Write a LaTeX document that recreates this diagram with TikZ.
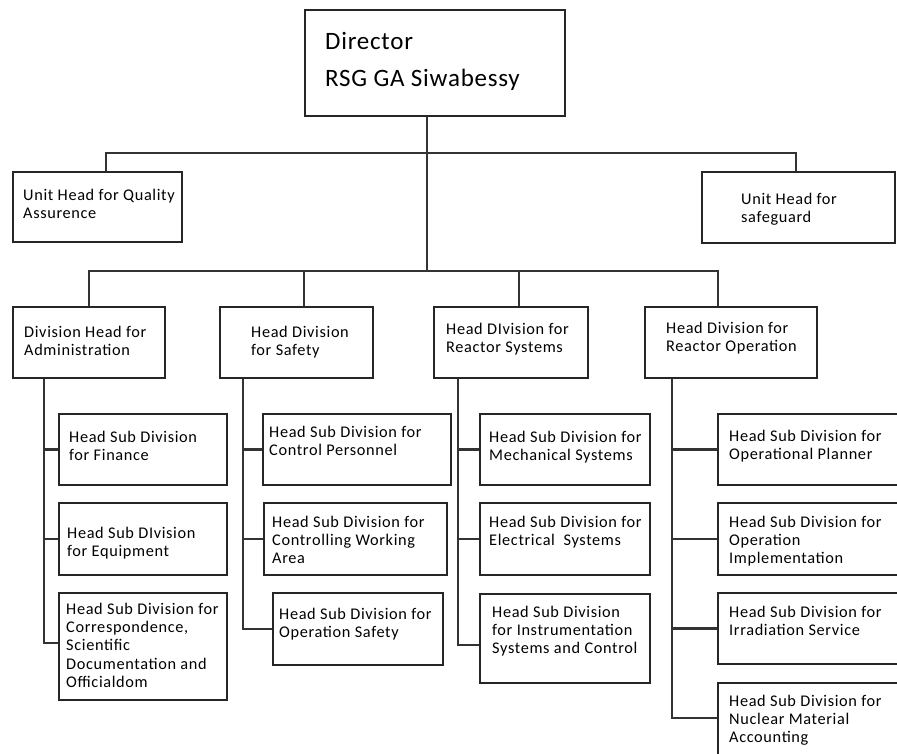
\documentclass[tikz,border=0pt]{standalone}
\usepackage{fontspec}
\setmainfont{Carlito}
\newfontfamily\boxfont[LetterSpace=4]{Carlito}
\newfontfamily\dirfont[LetterSpace=3]{Carlito}
\usetikzlibrary{fit}
\tikzset{
  box/.style={draw=black!85, line width=2.6pt, inner sep=0pt, fill=white},
  conn/.style={draw=black!80, line width=2.5pt},
  txt/.style={anchor=base west, inner sep=0pt, font=\boxfont\fontsize{16.3}{18.4}\selectfont},
  dtxt/.style={anchor=base west, inner sep=0pt, font=\dirfont\fontsize{25}{37}\selectfont},
}
\newcommand\orgbox[8]{%
  \node[box, fit={(#2,#3)(#4,#5)}] (#1) {};
  \node[txt] (#1t) at (#6,#7) {\parbox[t]{8cm}{\raggedright #8}};
}
\begin{document}
\begin{tikzpicture}[x=1pt,y=-1pt]
\useasboundingbox (0,0) rectangle (897,753);
\fill[white] (0,0) rectangle (897,753);
% director
\node[box, fit={(305,10)(565,116)}] (dir) {};
\node[dtxt] (dirt) at (325,49) {\parbox[t]{8cm}{\raggedright Director\\RSG GA Siwabessy}};
% units
\orgbox{qa}{13}{172}{182}{242}{23}{200}{Unit Head for Quality\\Assurence}
\orgbox{sg}{702}{172}{895}{243}{741}{204}{Unit Head for\\safeguard}
% divisions
\orgbox{adm}{13}{307}{165}{378}{24}{337}{Division Head for\\Administration}
\orgbox{saf}{220}{307}{373}{378}{251}{337}{Head Division\\for Safety}
\orgbox{rsy}{434}{307}{588}{378}{446}{334}{Head DIvision for\\Reactor Systems}
\orgbox{rop}{645}{307}{817}{378}{666}{333}{Head Division for\\Reactor Operation}
% sub divisions
\orgbox{fin}{59}{414}{227}{485}{69}{442}{Head Sub Division\\for Finance}
\orgbox{equ}{59}{503}{227}{575}{67}{538}{Head Sub DIvision\\for Equipment}
\orgbox{cor}{59}{593}{227}{700}{66}{614}{Head Sub Division for\\Correspondence,\\Scientific\\Documentation and\\Officialdom}
\orgbox{cpe}{263}{414}{451}{485}{269}{437}{Head Sub Division for\\Control Personnel}
\orgbox{cwa}{264}{503}{447}{575}{272}{527}{Head Sub Division for\\Controlling Working\\Area}
\orgbox{osa}{273}{593}{443}{665}{279}{619}{Head Sub Division for\\Operation Safety}
\orgbox{mec}{480}{414}{650}{485}{489}{442}{Head Sub Division for\\Mechanical Systems}
\orgbox{ele}{480}{503}{650}{575}{489}{527}{Head Sub Division for\\Electrical\ \ Systems}
\orgbox{ins}{480}{594}{650}{683}{492}{617}{Head Sub Division\\for Instrumentation\\Systems and Control}
\orgbox{opl}{718}{414}{900}{485}{729}{441}{Head Sub Division for\\Operational Planner}
\orgbox{oim}{718}{503}{900}{575}{729}{527}{Head Sub Division for\\Operation\\Implementation}
\orgbox{irr}{718}{593}{900}{664}{729}{617}{Head Sub Division for\\Irradiation Service}
\orgbox{nuc}{718}{683}{900}{760}{729}{706}{Head Sub Division for\\Nuclear Material\\Accounting}
% connectors top
\coordinate (j1) at (106,153);
\coordinate (j2) at (796,153);
\draw[conn] (qa.north -| j1) -- (j1) -- (j2) -- (sg.north -| j2);
\coordinate (k0) at (427,271);
\draw[conn] (dir.south -| k0) -- (k0);
\coordinate (k1) at (89,271);
\coordinate (k2) at (304,271);
\coordinate (k3) at (519,271);
\coordinate (k4) at (718,271);
\draw[conn] (adm.north -| k1) -- (k1) -- (k4) -- (rop.north -| k4);
\draw[conn] (saf.north -| k2) -- (k2);
\draw[conn] (rsy.north -| k3) -- (k3);
% sub connectors
\coordinate (v1) at (44,0);
\coordinate (v2) at (243,0);
\coordinate (v3) at (458,0);
\coordinate (v4) at (672,0);
\draw[conn] (adm.south -| v1) |- ([yshift=3.5pt]cor.west);
\draw[conn] (v1 |- fin.west) -- (fin.west);
\draw[conn] (v1 |- equ.west) -- (equ.west);
\draw[conn] (saf.south -| v2) |- (osa.west);
\draw[conn] (v2 |- cpe.west) -- (cpe.west);
\draw[conn] (v2 |- cwa.west) -- (cwa.west);
\draw[conn] (rsy.south -| v3) |- ([yshift=-6.5pt]ins.west);
\draw[conn] (v3 |- mec.west) -- (mec.west);
\draw[conn] (v3 |- ele.west) -- (ele.west);
\draw[conn] (rop.south -| v4) |- ([yshift=3.5pt]nuc.west);
\draw[conn] (v4 |- opl.west) -- (opl.west);
\draw[conn] (v4 |- oim.west) -- (oim.west);
\draw[conn] (v4 |- irr.west) -- (irr.west);
\end{tikzpicture}
\end{document}
